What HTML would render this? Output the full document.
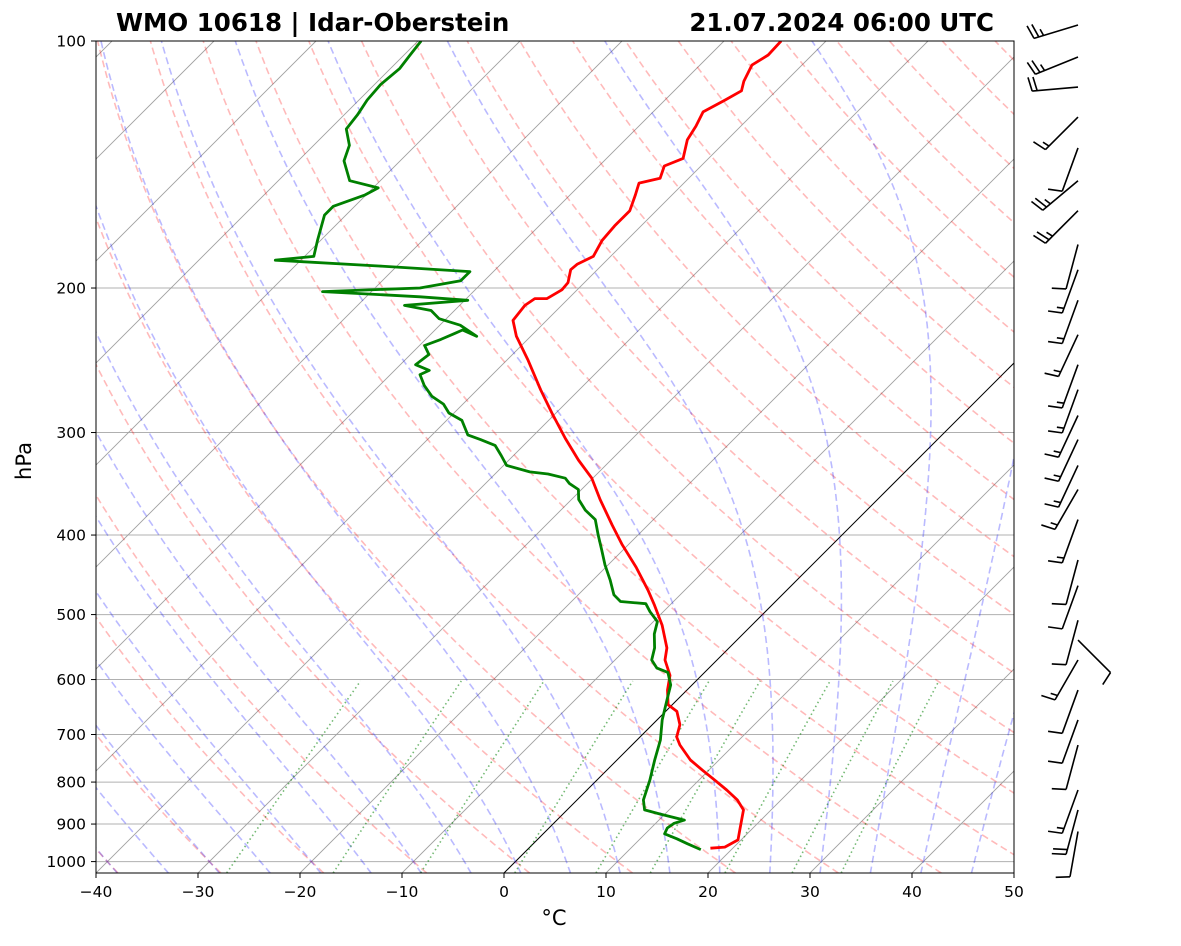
<!DOCTYPE html>
<html><head><meta charset="utf-8"><style>
body{margin:0;background:#fff;}
svg text{font-family:"DejaVu Sans","Liberation Sans",sans-serif;}
</style></head><body>
<svg id="chart" width="1181" height="941" viewBox="0 0 1181 941" xmlns="http://www.w3.org/2000/svg">
<defs><clipPath id="clip"><rect x="96" y="41" width="918" height="832"/></clipPath></defs>
<rect width="1181" height="941" fill="#fff"/>
<g id="bg" clip-path="url(#clip)"></g>
<g id="prof" clip-path="url(#clip)"></g>
<rect x="96" y="41" width="918" height="832" fill="none" stroke="#000" stroke-width="1"/>
<g id="axes"></g>
<g id="barbs"></g>
<text x="116" y="31" font-size="24.5" font-weight="bold">WMO 10618 | Idar-Oberstein</text>
<text x="994" y="31" font-size="24.5" font-weight="bold" text-anchor="end">21.07.2024 06:00 UTC</text>
<text x="31" y="461" font-size="21" text-anchor="middle" transform="rotate(-90 31 461)">hPa</text>
<text x="554" y="925" font-size="21" text-anchor="middle">°C</text>
</svg>
<script>
const tempP=[963,960,941,915,890,865,841,818,796,774,752,721,705,681,656,644,618,593,568,549,515,487,467,438,411,389,362,341,324,305,284,266,245,229,219,210,206,206,201,197,190,187,183,175,168,161,154,149,147,142,139,132,127,122,118,115,112,107,104,100];
const tempT=[17.8,19.1,19.7,18.9,18.1,17.3,15.7,13.7,11.6,9.4,7.2,4.7,3.6,2.7,1.1,-0.4,-1.9,-3.1,-5.1,-6.1,-8.8,-11.5,-13.6,-17.0,-20.6,-23.5,-27.2,-30.1,-33.2,-36.6,-40.4,-43.8,-47.9,-51.4,-53.3,-53.6,-53.3,-52.1,-51.5,-51.6,-52.6,-52.5,-51.7,-52.4,-52.6,-52.6,-53.6,-54.4,-52.8,-53.6,-52.5,-53.9,-54.4,-55.1,-54.1,-53.4,-54.1,-54.9,-54.3,-54.4];
const dewP=[967,951,938,925,910,898,890,875,865,841,796,752,711,672,635,609,588,581,568,549,528,510,496,485,482,473,454,435,417,400,383,373,362,352,346,341,337,335,329,320,311,306,302,290,284,277,271,263,255,252,248,241,235,231,227,225,229,222,218,213,210,207,205,202,200,196,191,188,185,183,175,163,159,154,151,148,140,134,128,123,118,113,108,104,100];
const dewT=[17.0,15.1,13.6,11.9,11.6,11.8,12.5,9.5,7.6,6.5,5.2,3.7,2.3,0.5,-1.0,-2.1,-3.6,-5.1,-6.4,-7.3,-8.7,-9.6,-11.3,-12.5,-15.2,-16.5,-18.3,-20.3,-22.1,-23.9,-25.7,-27.6,-29.3,-30.3,-31.8,-32.7,-34.8,-36.8,-39.7,-41.2,-42.8,-44.8,-46.5,-48.5,-50.5,-51.9,-53.8,-55.6,-57.1,-56.6,-58.5,-58.2,-59.5,-58.5,-57.7,-57.3,-55.3,-58.0,-60.7,-62.3,-65.4,-59.7,-64.7,-74.8,-65.6,-62.3,-62.3,-71.8,-82.5,-79.1,-80.3,-82.1,-82.1,-80.1,-79.5,-83.0,-85.5,-86.5,-88.4,-88.7,-89.2,-89.4,-89.1,-89.4,-89.7];
const barbP=[95.6,104.6,113.8,123.8,135,148,161,177,190,207,228,248,266,286,306,329,352,383,429,461,508,537,568,618,672,721,818,865,919];
const barbDir=[253,248,265,225,200,230,225,195,200,200,205,200,200,205,205,205,210,200,195,200,195,135,210,200,200,195,200,195,190];
const barbSpd=[25,25,20,15,10,25,25,10,15,15,15,15,15,15,15,15,15,15,10,10,10,10,15,10,10,10,15,20,10];
const pTicks=[100,200,300,400,500,600,700,800,900,1000];
const tTicks=[-40,-30,-20,-10,0,10,20,30,40,50];

const NS='http://www.w3.org/2000/svg';
const PB=100*Math.pow(10,(873-41)/820.6);
function yP(p){return 41+820.6*Math.log10(p/100);}
function xT(T,p){return 96+(T+40)*10.2+(873-yP(p));}
function mk(tag,attrs,parent){const e=document.createElementNS(NS,tag);for(const k in attrs)e.setAttribute(k,attrs[k]);parent.appendChild(e);return e;}
function pathFrom(pts){return pts.map((q,i)=>(i?'L':'M')+q[0].toFixed(1)+','+q[1].toFixed(1)).join('');}
const bg=document.getElementById('bg'),prof=document.getElementById('prof'),axes=document.getElementById('axes'),barbs=document.getElementById('barbs');
const plevs=[];for(let p=PB;p>=99;p-=5)plevs.push(p);plevs.push(100);

pTicks.forEach(p=>{const l=mk('line',{x1:96,x2:1014,y1:yP(p),y2:yP(p),stroke:'#b0b0b0','stroke-width':1},bg);

});
for(let T=-150;T<=50;T+=10){const l=mk('line',{x1:xT(T,PB),y1:yP(PB),x2:xT(T,100),y2:yP(100),stroke:T===0?'#000':'#a0a0a0','stroke-width':T===0?1:0.9},bg);

}
for(let t0=-40;t0<=200;t0+=10){const th=t0+273.15;const pts=plevs.map(p=>[xT(th*Math.pow(p/1000,0.286)-273.15,p),yP(p)]);
const e=mk('path',{d:pathFrom(pts),fill:'none',stroke:'rgba(255,0,0,0.27)','stroke-width':1.6,'stroke-dasharray':'7,4'},bg);

}
function es(T){return 6.112*Math.exp(17.67*T/(T+243.5));}
function dTdp(p,Tk){const Rd=287.04,cp=1005.7,Lv=2.501e6,eps=0.622;const e=es(Tk-273.15);const rs=eps*e/(p-e);
return (Rd*Tk+Lv*rs)/(cp+Lv*Lv*rs*eps/(Rd*Tk*Tk))/p;}
function moist(t0){const up=[];let T=t0+273.15;for(let p=1000;p>=100;p-=2){up.push([p,T]);T-=dTdp(p,T)*2;}
const dn=[];T=t0+273.15;for(let p=1000;p<=PB+2;p+=2){dn.push([p,T]);T+=dTdp(p,T)*2;}
return dn.reverse().concat(up);}
for(let t0=-40;t0<=45;t0+=5){const pts=moist(t0).map(q=>[xT(q[1]-273.15,q[0]),yP(q[0])]);
const e=mk('path',{d:pathFrom(pts),fill:'none',stroke:'rgba(0,0,255,0.27)','stroke-width':1.6,'stroke-dasharray':'7,4'},bg);

}
[0.0004,0.001,0.002,0.004,0.007,0.01,0.016,0.024,0.032].forEach(w=>{const pts=[];for(let p=PB;p>=600;p-=10){const e=w*p/(0.622+w);const l=Math.log(e/6.112);pts.push([xT(243.5*l/(17.67-l),p),yP(p)]);}
const e=mk('path',{d:pathFrom(pts),fill:'none',stroke:'rgba(0,128,0,0.55)','stroke-width':1.6,'stroke-dasharray':'1.5,3'},bg);

});
const tp=mk('path',{d:pathFrom(tempP.map((p,i)=>[xT(tempT[i],p),yP(p)])),fill:'none',stroke:'#ff0000','stroke-width':2.8,'stroke-linejoin':'round'},prof);


const dp=mk('path',{d:pathFrom(dewP.map((p,i)=>[xT(dewT[i],p),yP(p)])),fill:'none',stroke:'#008000','stroke-width':2.8,'stroke-linejoin':'round'},prof);


pTicks.forEach(p=>{const y=yP(p);mk('line',{x1:91,x2:96,y1:y,y2:y,stroke:'#000'},axes);
const t=mk('text',{x:86,y:y+5.5,'font-size':15.5,'text-anchor':'end'},axes);t.textContent=p;

});
tTicks.forEach(T=>{const x=xT(T,PB);mk('line',{x1:x,x2:x,y1:873,y2:878,stroke:'#000'},axes);
const t=mk('text',{x:x,y:897,'font-size':15.5,'text-anchor':'middle'},axes);t.textContent=(T<0?'\u2212'+(-T):T);

});
barbP.forEach((p,i)=>{const x0=1078,y0=yP(p),a=barbDir[i]*Math.PI/180,L=46;
const ux=Math.sin(a),uy=-Math.cos(a);const g=mk('g',{stroke:'#000','stroke-width':1.6,fill:'none'},barbs);


mk('line',{x1:x0,y1:y0,x2:x0+ux*L,y2:y0+uy*L},g);
let s=barbSpd[i];const bx=-uy,by=ux;let d=L;
while(s>=10){mk('line',{x1:x0+ux*d,y1:y0+uy*d,x2:x0+ux*(d+3)+bx*14,y2:y0+uy*(d+3)+by*14},g);d-=5;s-=10;}
if(s>=5){if(d===L)d-=5;mk('line',{x1:x0+ux*d,y1:y0+uy*d,x2:x0+ux*(d+1.5)+bx*7,y2:y0+uy*(d+1.5)+by*7},g);}
});
</script>
</body></html>
